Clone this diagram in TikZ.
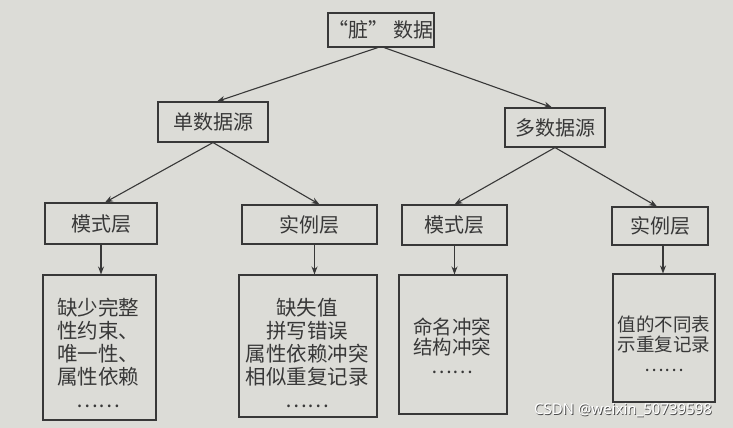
\documentclass[tikz,border=0pt]{standalone}
\usepackage{fontspec}
\setmainfont{Noto Sans}
\newfontfamily\cjk{Noto Sans CJK SC}
\usetikzlibrary{arrows.meta,calc}
\definecolor{paper}{HTML}{DCDCD7}
\definecolor{ink}{HTML}{383838}
\begin{document}
\begin{tikzpicture}[x=1pt,y=-1pt,
  box/.style={draw=ink,line width=1.1pt,inner sep=0pt,text=ink,font=\cjk\fontsize{20}{23}\selectfont},
  txt/.style={text=ink,inner sep=0pt,align=center,anchor=north,font=\cjk\fontsize{20.5}{23}\selectfont},
  arr/.style={draw=ink,line width=1.1pt,-{Stealth[length=8pt,width=6pt]}}]
\fill[paper] (0,0) rectangle (733,428);
\useasboundingbox (0,0) rectangle (733,428);
% level 0
\node[box,minimum width=106pt,minimum height=34pt] (root) at (381,30) {“脏”\ 数据};
% level 1
\node[box,minimum width=110pt,minimum height=40pt] (s1) at (213,122) {单数据源};
\node[box,minimum width=100pt,minimum height=39pt] (s2) at (555,127.5) {多数据源};
% level 2
\node[box,minimum width=112pt,minimum height=41pt] (m1) at (101,223.5) {模式层};
\node[box,minimum width=135pt,minimum height=39pt] (i1) at (309.5,224.5) {实例层};
\node[box,minimum width=105pt,minimum height=40pt] (m2) at (454.5,225) {模式层};
\node[box,minimum width=96pt,minimum height=38pt] (i2) at (660,226) {实例层};
% level 3
\node[box,minimum width=113pt,minimum height=145pt] (b1) at (99.5,347.5) {};
\node[box,minimum width=138pt,minimum height=142pt] (b2) at (308,346) {};
\node[box,minimum width=108pt,minimum height=139pt] (b3) at (453,344.5) {};
\node[box,minimum width=102pt,minimum height=128pt] (b4) at (664,338) {};
\node[txt] (t1) at (98,298) {缺少完整\\性约束、\\唯一性、\\属性依赖\\……};
\node[txt] (t2) at (307,298) {缺失值\\拼写错误\\属性依赖冲突\\相似重复记录\\……};
\node[txt,font=\cjk\fontsize{19.5}{19.5}\selectfont] (t3) at (452,318) {命名冲突\\结构冲突\\……};
\node[txt,font=\cjk\fontsize{18.5}{20}\selectfont] (t4) at (664,316) {值的不同表\\示重复记录\\……};
% connectors
\draw[arr] ([xshift=-3pt]root.south) -- ([xshift=4pt]s1.north);
\draw[arr] ([xshift=3pt]root.south) -- ([xshift=-3pt]s2.north);
\draw[arr] (s1.south) -- ([xshift=4pt]m1.north);
\draw[arr] (s1.south) -- ([xshift=10pt]i1.north);
\draw[arr] (s2.south) -- (m2.north);
\draw[arr] (s2.south) -- ([xshift=-3pt]i2.north);
\draw[arr] (m1.south) -- (m1.south |- b1.north);
\draw[arr] ([xshift=5pt]i1.south) -- ([xshift=5pt]i1.south |- b2.north);
\draw[arr] (m2.south) -- (m2.south |- b3.north);
\draw[arr] ([xshift=3pt]i2.south) -- ([xshift=3pt]i2.south |- b4.north);
% watermark
\node[text=gray!60!black,font=\fontsize{15}{15}\selectfont,inner sep=0pt] (wms) at (623.8,410.8) {CSDN @weixin\_50739598};
\node[text=white,font=\fontsize{15}{15}\selectfont,inner sep=0pt] (wm) at (623,410) {CSDN @weixin\_50739598};
\end{tikzpicture}
\end{document}
